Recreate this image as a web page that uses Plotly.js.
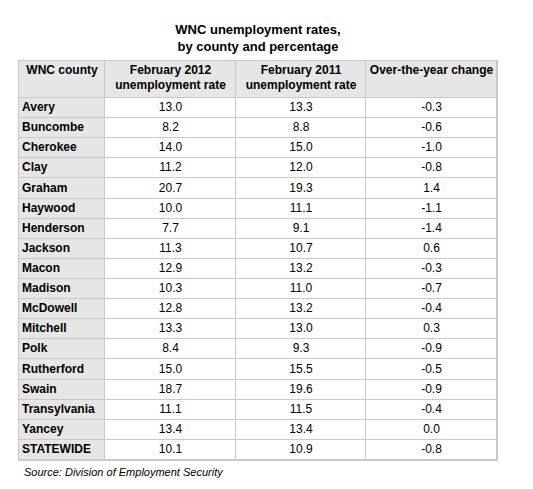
<!DOCTYPE html>
<html>
<head>
<meta charset="utf-8">
<script src="https://cdn.plot.ly/plotly-3.0.1.min.js"></script>
<style>html,body{margin:0;padding:0;background:#fff;}#chart{width:533px;height:489px;}</style>
</head>
<body>
<div id="chart"></div>
<script>
var headers = ["<b>WNC county</b>", "<b>February 2012<br>unemployment rate</b>", "<b>February 2011<br>unemployment rate</b>", "<b>Over-the-year change</b>"];
var counties = ["Avery","Buncombe","Cherokee","Clay","Graham","Haywood","Henderson","Jackson","Macon","Madison","McDowell","Mitchell","Polk","Rutherford","Swain","Transylvania","Yancey","STATEWIDE"];
var rate2012 = ["13.0","8.2","14.0","11.2","20.7","10.0","7.7","11.3","12.9","10.3","12.8","13.3","8.4","15.0","18.7","11.1","13.4","10.1"];
var rate2011 = ["13.3","8.8","15.0","12.0","19.3","11.1","9.1","10.7","13.2","11.0","13.2","13.0","9.3","15.5","19.6","11.5","13.4","10.9"];
var change = ["-0.3","-0.6","-1.0","-0.8","1.4","-1.1","-1.4","0.6","-0.3","-0.7","-0.4","0.3","-0.9","-0.5","-0.9","-0.4","0.0","-0.8"];

var W = 533, H = 489;
var font = "Liberation Sans, Arial, Helvetica, sans-serif";
var BORDER = "#c9c9c9", GREY = "#e6e6e6";

// layout of the grid (pixel units inside the table)
var colWidths = [86, 131, 130, 131];
var headerH = 37, rowH = 20.1, pad = 3;
var columns = [counties, rate2012, rate2011, change];

var xEdges = [0];
colWidths.forEach(function(w){ xEdges.push(xEdges[xEdges.length-1] + w); });
var totalW = xEdges[xEdges.length-1];
var yEdges = [0, headerH];
counties.forEach(function(){ yEdges.push(yEdges[yEdges.length-1] + rowH); });
var totalH = yEdges[yEdges.length-1];

// fill map: 1 = grey, 0 = white
var z = [];
for (var r = 0; r <= counties.length; r++) {
  var row = [];
  for (var c = 0; c < colWidths.length; c++) row.push((r === 0 || c === 0) ? 1 : 0);
  z.push(row);
}

var traces = [{
  type: "heatmap",
  x: xEdges, y: yEdges, z: z,
  zmin: 0, zmax: 1,
  colorscale: [[0, "#ffffff"], [1, GREY]],
  showscale: false, xgap: 1, ygap: 1, hoverinfo: "skip"
}];

var rowCenters = counties.map(function(_, i){ return (yEdges[i+1] + yEdges[i+2]) / 2; });
var colCenters = colWidths.map(function(_, j){ return (xEdges[j] + xEdges[j+1]) / 2; });

// header texts
traces.push({
  type: "scatter", mode: "text",
  x: colCenters, y: colCenters.map(function(){ return 3.5; }),
  text: headers, textposition: "bottom center",
  textfont: {family: font, size: 12, color: "#000"},
  cliponaxis: false, hoverinfo: "skip", showlegend: false
});

columns.forEach(function(vals, j){
  traces.push({
    type: "scatter", mode: "text",
    x: vals.map(function(){ return j === 0 ? xEdges[0] + pad : colCenters[j]; }),
    y: rowCenters,
    text: j === 0 ? vals.map(function(v){ return "<b>" + v + "</b>"; }) : vals,
    textposition: j === 0 ? "middle right" : "middle center",
    textfont: {family: font, size: 12, color: "#000"},
    cliponaxis: false, hoverinfo: "skip", showlegend: false
  });
});

var axisCommon = {showgrid: false, zeroline: false, showticklabels: false, ticks: "",
  showline: true, mirror: true, linecolor: BORDER, linewidth: 1, fixedrange: true};

var layout = {
  width: W, height: H,
  margin: {l: 0, r: 0, t: 0, b: 0},
  paper_bgcolor: "#fff",
  plot_bgcolor: BORDER,
  showlegend: false,
  xaxis: Object.assign({}, axisCommon, {range: [0, totalW], domain: [19/W, 497/W]}),
  yaxis: Object.assign({}, axisCommon, {range: [totalH, 0], domain: [1 - 460/H, 1 - 61/H]}),
  title: {
    text: "<b>WNC unemployment rates,<br>by county and percentage</b>",
    font: {family: font, size: 13, color: "#000"},
    x: 258/W, xanchor: "center",
    y: 1 - 34/H, yanchor: "middle",
    xref: "paper", yref: "container"
  },
  annotations: [{
    text: "<i>Source: Division of Employment Security</i>",
    xref: "paper", yref: "paper",
    x: 22/W, xanchor: "left",
    y: 1 - 472/H, yanchor: "middle",
    showarrow: false,
    font: {family: font, size: 11, color: "#000"}
  }]
};

Plotly.newPlot("chart", traces, layout, {displayModeBar: false, staticPlot: true});
</script>
</body>
</html>
